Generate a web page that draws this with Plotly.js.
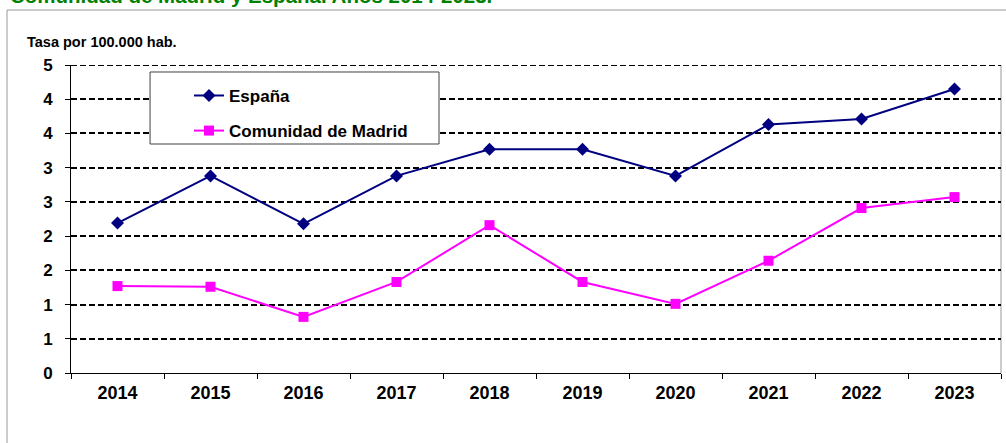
<!DOCTYPE html>
<html>
<head>
<meta charset="utf-8">
<script src="https://cdn.plot.ly/plotly-3.0.1.min.js"></script>
<style>
html,body{margin:0;padding:0;background:#fff;}
#chart{width:1006px;height:443px;}
</style>
</head>
<body>
<div id="chart"></div>
<script>
const years = ['2014','2015','2016','2017','2018','2019','2020','2021','2022','2023'];
const espana = [2.19, 2.88, 2.18, 2.88, 3.27, 3.27, 2.88, 3.63, 3.71, 4.15];
const madrid = [1.27, 1.26, 0.82, 1.33, 2.16, 1.33, 1.01, 1.64, 2.41, 2.57];
const yTickVals = [0, 0.5, 1, 1.5, 2, 2.5, 3, 3.5, 4, 4.5];
const yTickText = ['0','1','1','2','2','3','3','4','4','5'];
const seriesNames = ['España', 'Comunidad de Madrid'];
const titleText = 'Comunidad de Madrid y España. Años 2014-2023.';
const yTitleText = 'Tasa por 100.000 hab.';

const FONT = 'Arial, "Liberation Sans", sans-serif';

const traces = [
  {
    x: years, y: espana, name: seriesNames[0], type: 'scatter', mode: 'lines+markers',
    line: {color: '#000080', width: 2},
    marker: {symbol: 'diamond', size: 10, color: '#000080'},
    legendgroup: 'a'
  },
  {
    x: years, y: madrid, name: seriesNames[1], type: 'scatter', mode: 'lines+markers',
    line: {color: '#FF00FF', width: 2},
    marker: {symbol: 'square', size: 10, color: '#FF00FF'},
    legendgroup: 'b'
  }
];

const layout = {
  width: 1006, height: 443,
  margin: {l: 71, r: 5, t: 65, b: 70},
  paper_bgcolor: '#ffffff', plot_bgcolor: '#ffffff',
  font: {family: FONT, color: '#000', size: 14},
  showlegend: true,
  legend: {
    x: 0.1269, y: 0.958, xanchor: 'left', yanchor: 'top',
    bgcolor: 'rgba(0,0,0,0)', borderwidth: 0,
    font: {family: FONT, size: 17, color: '#000', weight: 'bold'},
    tracegroupgap: 10, traceorder: 'grouped'
  },
  xaxis: {
    type: 'category', range: [-0.5, 9.5],
    showgrid: false, zeroline: false,
    showline: true, linecolor: '#000', linewidth: 1,
    ticks: 'outside', ticklen: 5, tickcolor: '#000', tickson: 'boundaries',
    ticklabelstandoff: 3,
    tickfont: {family: FONT, size: 18, color: '#000', weight: 'bold'},
    fixedrange: true
  },
  yaxis: {
    range: [0, 4.5], tickmode: 'array', tickvals: yTickVals, ticktext: yTickText,
    showgrid: true, gridcolor: '#000', gridwidth: 2, griddash: '6px,3px',
    zeroline: false, showline: true, linecolor: '#000', linewidth: 1,
    ticks: 'outside', ticklen: 5, tickcolor: '#000',
    ticklabelstandoff: 9,
    tickfont: {family: FONT, size: 17, color: '#000', weight: 'bold'},
    fixedrange: true
  },
  shapes: [
    {type: 'rect', xref: 'paper', yref: 'paper', x0: -0.0688, x1: 1.02, y0: -0.3, y1: 1.1786,
     line: {color: '#999999', width: 1}, fillcolor: 'rgba(0,0,0,0)', layer: 'below'},
    {type: 'line', xref: 'paper', yref: 'paper', x0: 1, x1: 1, y0: 0, y1: 1,
     line: {color: '#999999', width: 1}, layer: 'below'},
    {type: 'line', xref: 'paper', yref: 'y', x0: 0, x1: 1, y0: 4.5, y1: 4.5,
     line: {color: '#000000', width: 2, dash: '6px,3px'}, layer: 'below'},
    {type: 'rect', xref: 'paper', yref: 'paper', x0: 0.085, x1: 0.3957, y0: 0.7435, y1: 0.9773,
     line: {color: '#404040', width: 1}, fillcolor: '#ffffff', layer: 'above'}
  ],
  annotations: [
    {text: yTitleText, xref: 'paper', yref: 'paper', x: -0.0495, y: 1.076,
     xanchor: 'left', yanchor: 'middle', showarrow: false,
     font: {family: FONT, size: 14.5, color: '#000', weight: 'bold'}},
    {text: titleText, xref: 'paper', yref: 'paper', x: -0.068, y: 1.1818,
     xanchor: 'left', yanchor: 'bottom', showarrow: false,
     font: {family: FONT, size: 20.5, color: '#008000', weight: 'bold'}}
  ]
};

Plotly.newPlot('chart', traces, layout, {displayModeBar: false, staticPlot: true});
</script>
</body>
</html>
